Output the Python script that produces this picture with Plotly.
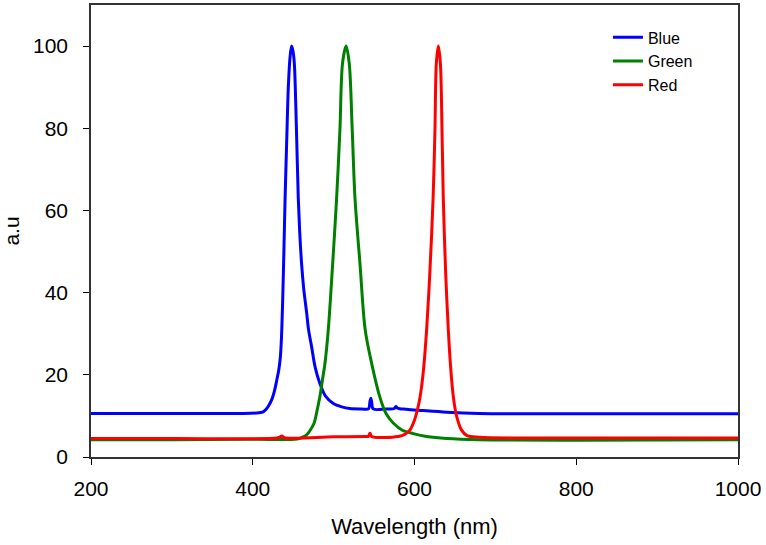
import plotly.graph_objects as go

# Blue series
wl_blue = [200, 300, 380, 405, 413, 416, 420, 424, 427, 430, 432, 434, 435.5, 437, 438.5, 440, 442, 444, 446, 448,
           450, 451.5, 454, 456.3, 458, 460.4, 463, 466.7, 469, 472.8, 477, 483, 490, 499.6, 510, 520, 535,
           543, 545, 546, 547, 549, 565, 575, 577, 579, 590, 610, 640, 680, 800, 1000]
blue = [10.6, 10.6, 10.6, 10.7, 11.0, 11.5, 12.6, 14.2, 16.2, 19.0, 21.0, 24.0, 29, 38, 50, 63, 77, 90, 97, 100,
        98.5, 95.5, 80, 63, 55, 47, 41, 35, 31, 26.8, 22, 17.9, 14.8, 13.0, 12.2, 11.8, 11.7,
        11.7, 13.6, 14.3, 13.4, 11.7, 11.7, 11.8, 12.3, 11.9, 11.6, 11.3, 10.9, 10.6, 10.5, 10.5]

# Green series
wl_green = [200, 300, 400, 455, 460, 466.7, 471, 475.8, 479, 483, 486, 489.3, 493.4, 498.8, 503.7, 507.8, 511,
            515.4, 519.3, 523, 526.4, 532.6, 539, 547, 557, 565, 574, 585, 598.5, 615, 640, 680, 800, 1000]
green = [4.2, 4.2, 4.3, 4.4, 4.7, 5.4, 6.5, 8.2, 10.8, 14.7, 18.5, 22.8, 31, 47, 63, 79.6, 95.8,
         100, 95.8, 79.6, 63, 47, 31, 22.8, 14.7, 10.5, 8.2, 6.5, 5.7, 5.0, 4.5, 4.2, 4.1, 4.2]

# Red series
wl_red = [200, 300, 430, 433, 436, 439, 500, 540, 543, 545, 547, 580, 588, 594.5, 600, 604, 607, 611, 615,
          619, 623, 625.3, 627, 629.5, 632, 634, 635.6, 638.5, 641.8, 645, 648, 652, 658, 665, 680, 800, 1000]
red = [4.5, 4.5, 4.6, 4.8, 5.1, 4.7, 4.9, 5.0, 5.0, 5.8, 5.0, 5.0, 5.5, 6.6, 9.0, 11.8, 14.7, 21, 31,
       45, 63, 79.6, 95.8, 100, 95.8, 79.6, 63, 45, 31, 21, 14.7, 10.0, 6.6, 5.2, 4.8, 4.6, 4.6]

series = [("Blue", wl_blue, blue, "#0000FF"),
          ("Green", wl_green, green, "#008000"),
          ("Red", wl_red, red, "#FF0000")]

x_ticks = [200, 400, 600, 800, 1000]
y_ticks = [0, 20, 40, 60, 80, 100]

fig = go.Figure()
for name, xs, ys, col in series:
    fig.add_trace(go.Scatter(x=xs, y=ys, name=name, mode="lines",
                             line=dict(color=col, width=3, shape="spline", smoothing=0.9)))

font = "Liberation Sans, Arial, sans-serif"
fig.update_layout(
    width=766, height=545,
    margin=dict(l=91, r=28, t=5, b=88),
    paper_bgcolor="white", plot_bgcolor="white",
    font=dict(family=font, size=21, color="black"),
    showlegend=True,
    legend=dict(x=0.799, y=0.966, xanchor="left", yanchor="top",
                bgcolor="rgba(0,0,0,0)", font=dict(size=16), tracegroupgap=0),
    xaxis=dict(range=[200, 1000], tickvals=x_ticks, ticks="outside", ticklen=6,
               tickcolor="black", showline=True, linecolor="#333333", linewidth=1.5,
               mirror=True, showgrid=False, zeroline=False, automargin=False,
               title=dict(text="Wavelength (nm)", standoff=20, font=dict(size=22)),
               ticklabelstandoff=6),
    yaxis=dict(range=[0, 110], tickvals=y_ticks, ticks="outside", ticklen=6,
               tickcolor="black", showline=True, linecolor="#333333", linewidth=1.5,
               mirror=True, showgrid=False, zeroline=False, automargin=False,
               title=dict(text="a.u", standoff=18, font=dict(size=21)),
               ticklabelstandoff=11),
)

fig.write_html("out.html", config={"displayModeBar": False},
               post_script="document.body.style.margin='0';")
